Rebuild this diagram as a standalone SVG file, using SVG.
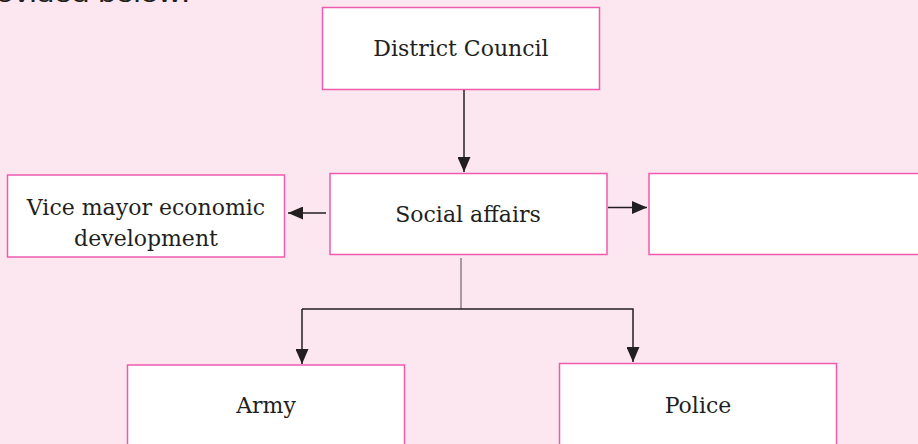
<svg xmlns="http://www.w3.org/2000/svg" width="918" height="444" viewBox="0 0 918 444">
<defs>
<style>
.box{fill:#ffffff;stroke:#EE5BAE;stroke-width:1.5}
.lbl{font-family:"DejaVu Serif","Liberation Serif",serif;font-size:22px;fill:#231F20;text-anchor:middle}
.con{fill:none;stroke:#231F20;stroke-width:1.5}
</style>
<marker id="ah" viewBox="0 0 10 10" refX="10" refY="5" markerWidth="15" markerHeight="13" markerUnits="userSpaceOnUse" orient="auto" preserveAspectRatio="none">
<path d="M0,0 L10,5 L0,10 Z" fill="#231F20"/>
</marker>
</defs>
<rect width="918" height="444" fill="#FCE7F0"/>
<text x="-4" y="2" font-family="Liberation Sans, Arial, sans-serif" font-size="26" fill="#231F20" textLength="194" lengthAdjust="spacingAndGlyphs">ovided below:</text>
<g id="district-council">
<rect class="box" x="322.5" y="7.5" width="277" height="82"/>
<text class="lbl" x="461" y="56">District Council</text>
</g>
<g id="social-affairs">
<rect class="box" x="330" y="173.5" width="277" height="81"/>
<text class="lbl" x="468" y="222">Social affairs</text>
</g>
<g id="vice-mayor">
<rect class="box" x="7.5" y="175" width="277" height="82"/>
<text class="lbl" x="146" y="215">Vice mayor economic</text>
<text class="lbl" x="146" y="246">development</text>
</g>
<g id="empty-box">
<rect class="box" x="649" y="173.5" width="280" height="81"/>
</g>
<g id="army">
<rect class="box" x="127.5" y="365" width="277" height="90"/>
<text class="lbl" x="266" y="413">Army</text>
</g>
<g id="police">
<rect class="box" x="559.5" y="363.5" width="277" height="90"/>
<text class="lbl" x="698" y="413">Police</text>
</g>
<g id="connectors">
<line class="con" x1="464" y1="90" x2="464" y2="172" marker-end="url(#ah)"/>
<line class="con" x1="326" y1="213" x2="288" y2="213" marker-end="url(#ah)"/>
<line class="con" x1="608" y1="207.5" x2="647" y2="207.5" marker-end="url(#ah)"/>
<line x1="461" y1="258" x2="461" y2="309" stroke="#7A7075" stroke-width="1.3"/>
<polyline class="con" points="302,309 633,309 633,362" marker-end="url(#ah)"/>
<line class="con" x1="302" y1="309" x2="302" y2="364" marker-end="url(#ah)"/>
</g>
</svg>
